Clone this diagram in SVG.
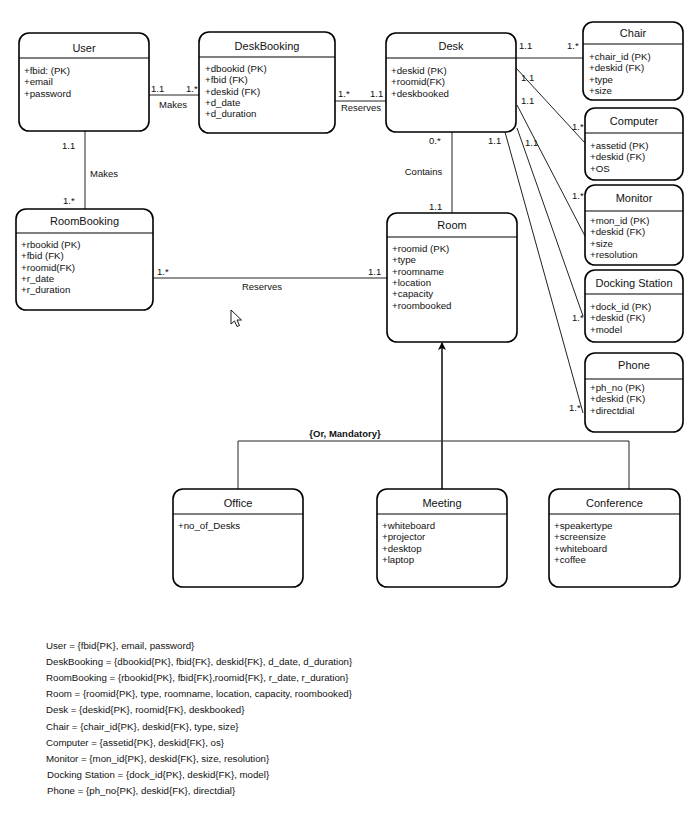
<svg xmlns="http://www.w3.org/2000/svg" width="690" height="815" viewBox="0 0 690 815">
<style>
text{font-family:"Liberation Sans",Arial,sans-serif;fill:#111}
.t{font-size:11px;text-anchor:middle}
.a{font-size:9.7px}
.l{font-size:9.5px}
.c{font-size:9.5px;text-anchor:middle}
.b{fill:#fff;stroke:#000;stroke-width:1.6}
.h{stroke:#000;stroke-width:1.2}
.e{fill:none;stroke:#222;stroke-width:1}
</style>
<defs>
<marker id="arr" markerWidth="8" markerHeight="8" refX="4" refY="1" orient="0" markerUnits="userSpaceOnUse">
<path d="M0,8 L4,0 L8,8 L4,6 Z" fill="#000"/>
</marker>
</defs>
<rect width="690" height="815" fill="#fff"/>
<g id="connectors">
<line class="e" x1="149" y1="95" x2="199" y2="95"/>
<line class="e" x1="335" y1="101" x2="386" y2="101"/>
<line class="e" x1="85" y1="131" x2="85" y2="209"/>
<line class="e" x1="153" y1="278" x2="387" y2="278"/>
<line class="e" x1="452" y1="132" x2="452" y2="213"/>
<line class="e" x1="516" y1="58" x2="583" y2="58"/>
<line class="e" x1="516" y1="68" x2="585" y2="143"/>
<line class="e" x1="517" y1="105" x2="585" y2="236"/>
<line class="e" x1="517" y1="128" x2="583" y2="316"/>
<line class="e" x1="505" y1="132" x2="583" y2="413"/>
<polyline class="e" points="238,489 238,441 629,441 629,489"/>
<line x1="442" y1="489" x2="442" y2="343" stroke="#333" stroke-width="1.8" marker-end="url(#arr)"/>
<text class="l" x="151" y="92">1.1</text>
<text class="l" x="186" y="92">1.*</text>
<text class="c" x="173" y="108">Makes</text>
<text class="l" x="338" y="96.5">1.*</text>
<text class="l" x="370" y="96.5">1.1</text>
<text class="c" x="361" y="111">Reserves</text>
<text class="l" x="62" y="148.5">1.1</text>
<text class="l" x="63" y="204">1.*</text>
<text class="c" x="104" y="176.5">Makes</text>
<text class="l" x="157" y="275">1.*</text>
<text class="l" x="368" y="275">1.1</text>
<text class="c" x="262" y="290">Reserves</text>
<text class="l" x="429" y="143.5">0.*</text>
<text class="c" x="423.5" y="175">Contains</text>
<text class="l" x="429" y="209.5">1.1</text>
<text class="l" x="488" y="143.5">1.1</text>
<text class="l" x="519" y="48.5">1.1</text>
<text class="l" x="567" y="48.5">1.*</text>
<text class="l" x="521" y="80.5">1.1</text>
<text class="l" x="572" y="129.5">1.*</text>
<text class="l" x="521" y="103.5">1.1</text>
<text class="l" x="572" y="198.5">1.*</text>
<text class="l" x="525" y="145.5">1.1</text>
<text class="l" x="572" y="320.5">1.*</text>
<text class="l" x="569" y="411">1.*</text>
<text x="345" y="437" style="font-size:9.5px;font-weight:bold;text-anchor:middle">{Or, Mandatory}</text>
</g>
<g id="User">
<rect class="b" x="19" y="33" width="130" height="98" rx="10"/>
<line class="h" x1="19" y1="58" x2="149" y2="58"/>
<text class="t" x="84" y="52">User</text>
<text class="a" x="24" y="74">+fbid: (PK)</text>
<text class="a" x="24" y="85.3">+email</text>
<text class="a" x="24" y="96.6">+password</text>
</g>
<g id="DeskBooking">
<rect class="b" x="199" y="32" width="136" height="101" rx="10"/>
<line class="h" x1="199" y1="57" x2="335" y2="57"/>
<text class="t" x="267" y="50">DeskBooking</text>
<text class="a" x="205" y="72">+dbookid (PK)</text>
<text class="a" x="205" y="83.3">+fbid (FK)</text>
<text class="a" x="205" y="94.6">+deskid (FK)</text>
<text class="a" x="205" y="105.9">+d_date</text>
<text class="a" x="205" y="117.2">+d_duration</text>
</g>
<g id="Desk">
<rect class="b" x="386" y="33" width="130" height="99" rx="10"/>
<line class="h" x1="386" y1="58" x2="516" y2="58"/>
<text class="t" x="451" y="50">Desk</text>
<text class="a" x="391" y="74">+deskid (PK)</text>
<text class="a" x="391" y="85.3">+roomid(FK)</text>
<text class="a" x="391" y="96.6">+deskbooked</text>
</g>
<g id="Chair">
<rect class="b" x="583" y="22" width="100" height="78" rx="10"/>
<line class="h" x1="583" y1="44" x2="683" y2="44"/>
<text class="t" x="633" y="37">Chair</text>
<text class="a" x="589" y="60">+chair_id (PK)</text>
<text class="a" x="589" y="71.3">+deskid (FK)</text>
<text class="a" x="589" y="82.6">+type</text>
<text class="a" x="589" y="93.9">+size</text>
</g>
<g id="Computer">
<rect class="b" x="585" y="108" width="98" height="72" rx="10"/>
<line class="h" x1="585" y1="133" x2="683" y2="133"/>
<text class="t" x="634" y="125">Computer</text>
<text class="a" x="590" y="149">+assetid (PK)</text>
<text class="a" x="590" y="160.3">+deskid (FK)</text>
<text class="a" x="590" y="171.6">+OS</text>
</g>
<g id="Monitor">
<rect class="b" x="585" y="185" width="98" height="80" rx="10"/>
<line class="h" x1="585" y1="211" x2="683" y2="211"/>
<text class="t" x="634" y="202">Monitor</text>
<text class="a" x="590" y="224">+mon_id (PK)</text>
<text class="a" x="590" y="235.3">+deskid (FK)</text>
<text class="a" x="590" y="246.6">+size</text>
<text class="a" x="590" y="257.9">+resolution</text>
</g>
<g id="DockingStation">
<rect class="b" x="585" y="270" width="98" height="72" rx="10"/>
<line class="h" x1="585" y1="294" x2="683" y2="294"/>
<text class="t" x="634" y="287">Docking Station</text>
<text class="a" x="590" y="310">+dock_id (PK)</text>
<text class="a" x="590" y="321.3">+deskid (FK)</text>
<text class="a" x="590" y="332.6">+model</text>
</g>
<g id="Phone">
<rect class="b" x="585" y="353" width="98" height="79" rx="10"/>
<line class="h" x1="585" y1="379" x2="683" y2="379"/>
<text class="t" x="634" y="369">Phone</text>
<text class="a" x="590" y="391">+ph_no (PK)</text>
<text class="a" x="590" y="402.3">+deskid (FK)</text>
<text class="a" x="590" y="413.6">+directdial</text>
</g>
<g id="RoomBooking">
<rect class="b" x="16" y="209" width="137" height="101" rx="10"/>
<line class="h" x1="16" y1="233" x2="153" y2="233"/>
<text class="t" x="84.5" y="225">RoomBooking</text>
<text class="a" x="21" y="248">+rbookid (PK)</text>
<text class="a" x="21" y="259.3">+fbid (FK)</text>
<text class="a" x="21" y="270.6">+roomid(FK)</text>
<text class="a" x="21" y="281.9">+r_date</text>
<text class="a" x="21" y="293.2">+r_duration</text>
</g>
<g id="Room">
<rect class="b" x="387" y="213" width="130" height="129" rx="10"/>
<line class="h" x1="387" y1="237" x2="517" y2="237"/>
<text class="t" x="452" y="229">Room</text>
<text class="a" x="392" y="252">+roomid (PK)</text>
<text class="a" x="392" y="263.3">+type</text>
<text class="a" x="392" y="274.6">+roomname</text>
<text class="a" x="392" y="285.9">+location</text>
<text class="a" x="392" y="297.2">+capacity</text>
<text class="a" x="392" y="308.5">+roombooked</text>
</g>
<g id="Office">
<rect class="b" x="173" y="489" width="130" height="98" rx="10"/>
<line class="h" x1="173" y1="514" x2="303" y2="514"/>
<text class="t" x="238" y="507">Office</text>
<text class="a" x="178" y="529">+no_of_Desks</text>
</g>
<g id="Meeting">
<rect class="b" x="377" y="489" width="130" height="98" rx="10"/>
<line class="h" x1="377" y1="514" x2="507" y2="514"/>
<text class="t" x="442" y="507">Meeting</text>
<text class="a" x="382" y="529">+whiteboard</text>
<text class="a" x="382" y="540.3">+projector</text>
<text class="a" x="382" y="551.6">+desktop</text>
<text class="a" x="382" y="562.9">+laptop</text>
</g>
<g id="Conference">
<rect class="b" x="549" y="489" width="131" height="98" rx="10"/>
<line class="h" x1="549" y1="514" x2="680" y2="514"/>
<text class="t" x="614.5" y="507">Conference</text>
<text class="a" x="554" y="529">+speakertype</text>
<text class="a" x="554" y="540.3">+screensize</text>
<text class="a" x="554" y="551.6">+whiteboard</text>
<text class="a" x="554" y="562.9">+coffee</text>
</g>
<path d="M231,310 L231,324 L234.5,321 L237,326.5 L239.5,325.5 L237,320 L241.5,320 Z" fill="#fff" stroke="#000" stroke-width="0.9" stroke-linejoin="round"/>
<g id="relations" style="font-size:9.7px">
<text class="a" x="46" y="648.5">User = {fbid{PK}, email, password}</text>
<text class="a" x="46" y="664.7">DeskBooking = {dbookid{PK}, fbid{FK}, deskid{FK}, d_date, d_duration}</text>
<text class="a" x="46" y="680.9">RoomBooking = {rbookid{PK}, fbid{FK},roomid{FK}, r_date, r_duration}</text>
<text class="a" x="46" y="697.1">Room = {roomid{PK}, type, roomname, location, capacity, roombooked}</text>
<text class="a" x="46" y="713.3">Desk = {deskid{PK}, roomid{FK}, deskbooked}</text>
<text class="a" x="46" y="729.5">Chair = {chair_id{PK}, deskid{FK}, type, size}</text>
<text class="a" x="46" y="745.7">Computer = {assetid{PK}, deskid{FK}, os}</text>
<text class="a" x="46" y="761.9">Monitor = {mon_id{PK}, deskid{FK}, size, resolution}</text>
<text class="a" x="47" y="778.1">Docking Station = {dock_id{PK}, deskid{FK}, model}</text>
<text class="a" x="47" y="794.3">Phone = {ph_no{PK}, deskid{FK}, directdial}</text>
</g>
</svg>
